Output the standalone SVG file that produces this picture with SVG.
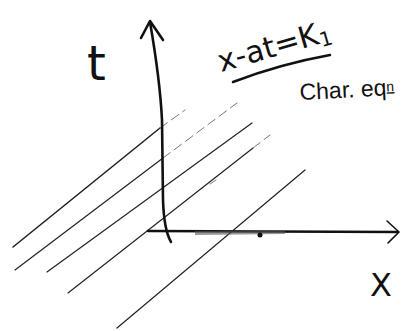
<svg xmlns="http://www.w3.org/2000/svg" width="411" height="331" viewBox="0 0 411 331">
<style>
.ax{fill:none;stroke:#111;stroke-width:2.6;stroke-linecap:round;stroke-linejoin:round}
.ch{fill:none;stroke:#222;stroke-width:1.2;stroke-linecap:round}
.chd{fill:none;stroke:#777;stroke-width:1;stroke-linecap:round;stroke-dasharray:9 5}
.lbl{font-family:"DejaVu Sans",sans-serif;fill:#111}
</style>
<rect width="411" height="331" fill="#fff"/>
<g id="characteristics">
<path class="ch" d="M13,247 L160,128" style="stroke-width:1.6"/>
<path class="chd" d="M160,128 L185,110"/>
<path class="ch" d="M15,270 L163,158"/>
<path class="chd" d="M163,158 L237,103"/>
<path class="ch" d="M47,272 L252,123"/>
<path class="ch" d="M68,293 L253,148"/>
<path class="chd" d="M253,148 L270,135"/>
<path class="ch" d="M117,328 L305,170"/>
<path class="chd" d="M210,184 L216,180"/>
</g>
<g id="axes">
<path class="ax" d="M150,22 Q160,80 162,120 L163,200 Q164,230 171,242"/>
<path class="ax" d="M141,38 L150,21 L163,40"/>
<path class="ax" d="M148,231 L398,232"/>
<path class="ax" d="M387,221 L399,232 L388,243" style="stroke-width:1.6"/>
<path d="M195,233 L285,232" style="stroke:#555;stroke-width:4;opacity:0.6"/>
<circle cx="260" cy="235" r="2.5" fill="#111"/>
</g>
<g id="labels">
<text class="lbl" x="87" y="80" font-size="48">t</text>
<text class="lbl" x="370" y="296" font-size="32">X</text>
<text class="lbl" x="221" y="72" font-size="30" transform="rotate(-16 221 72)">x-at=K<tspan font-size="20" dy="4">1</tspan></text>
<path class="ax" d="M233,82 Q280,64 330,55" style="stroke-width:2.5"/>
<text class="lbl" x="300" y="100" font-size="23" style="font-family:'Liberation Sans',sans-serif" transform="rotate(-3 300 100)">Char. eq<tspan font-size="14" dy="-4" text-decoration="underline">n</tspan></text>
</g>
</svg>
